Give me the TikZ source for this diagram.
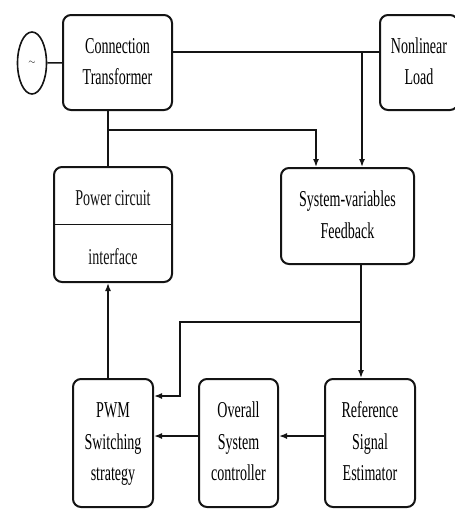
\documentclass[tikz,border=0pt]{standalone}
\usepackage{fontspec}
\setmainfont{Liberation Serif}
\usepackage{graphicx}
\usetikzlibrary{positioning, calc, arrows.meta, shapes.geometric}
\definecolor{inkgrey}{RGB}{20,20,20}
\newcommand{\blocktext}[1]{\scalebox{0.78}[1.26]{\fontsize{18}{25}\selectfont\begin{tabular}{@{}c@{}}#1\end{tabular}}}
\tikzset{
  blk/.style={draw=inkgrey, line width=2pt, rounded corners=8pt, fill=white, inner sep=0pt},
  srcnode/.style={draw=inkgrey, line width=1.6pt, ellipse, minimum width=29pt, minimum height=62pt,
    inner sep=0pt, font=\small},
  wire/.style={draw=inkgrey, line width=1.5pt},
  flow/.style={wire, -{Latex[length=8pt, width=6pt]}},
  lbl/.style={inner sep=0pt, text=inkgrey}
}

\begin{document}
\begin{tikzpicture}[x=1pt, y=-1pt]
  \useasboundingbox (0,0) rectangle (455,509);
  % blocks
  \node[srcnode] (src) at (32,63) {$\sim$};
  \node[blk, minimum width=109pt, minimum height=95pt] (xfmr) at (117.5,62.5) {\blocktext{Connection\\Transformer}};
  \node[blk, minimum width=78pt, minimum height=95pt] (load) at (419,62.5) {\blocktext{Nonlinear\\Load}};
  \node[blk, minimum width=118pt, minimum height=115pt] (power) at (113,224.5) {};
  \node[blk, minimum width=133pt, minimum height=96pt] (fdbk) at (347.5,216) {\blocktext{System-variables\\Feedback}};
  \node[blk, minimum width=80pt, minimum height=128pt] (pwm) at (113,443) {\blocktext{PWM\\Switching\\strategy}};
  \node[blk, minimum width=79pt, minimum height=128pt] (ctrl) at (238.5,443) {\blocktext{Overall\\System\\controller}};
  \node[blk, minimum width=90pt, minimum height=128pt] (refe) at (370,443) {\blocktext{Reference\\Signal\\Estimator}};
  \draw[wire, line width=1.2pt] (power.west) -- (power.east);
  \node[lbl] (pwrtop) at ($(power.center)+(0,-25)$) {\blocktext{Power circuit}};
  \node[lbl] (pwrbot) at ($(power.center)+(0,34)$) {\blocktext{interface}};
  % junctions
  \coordinate (bus) at (362,52);
  \coordinate (tap) at (108,130);
  \coordinate (tapend) at (316,130);
  \coordinate (split) at (361,322);
  \coordinate (corner) at (180,322);
  \coordinate (pwmin) at ($(pwm.north east)+(0,18)$);
  % connectors
  \draw[wire] (src) -- (xfmr);
  \draw[wire] (xfmr.east |- bus) -- (load.west |- bus);
  \draw[flow] (bus) -- (bus |- fdbk.north);
  \draw[wire] (tap |- xfmr.south) -- (tap |- power.north);
  \draw[flow] (tap) -- (tapend) -- (tapend |- fdbk.north);
  \draw[flow] (split |- fdbk.south) -- (split |- refe.north);
  \draw[flow] (split) -- (corner) -- (corner |- pwmin) -- (pwmin);
  \draw[flow] (tap |- pwm.north) -- (tap |- power.south);
  \draw[flow] ($(refe.west)+(0,-7)$) -- ($(ctrl.east)+(0,-7)$);
  \draw[flow] ($(ctrl.west)+(0,-7)$) -- ($(pwm.east)+(0,-7)$);
\end{tikzpicture}
\end{document}
